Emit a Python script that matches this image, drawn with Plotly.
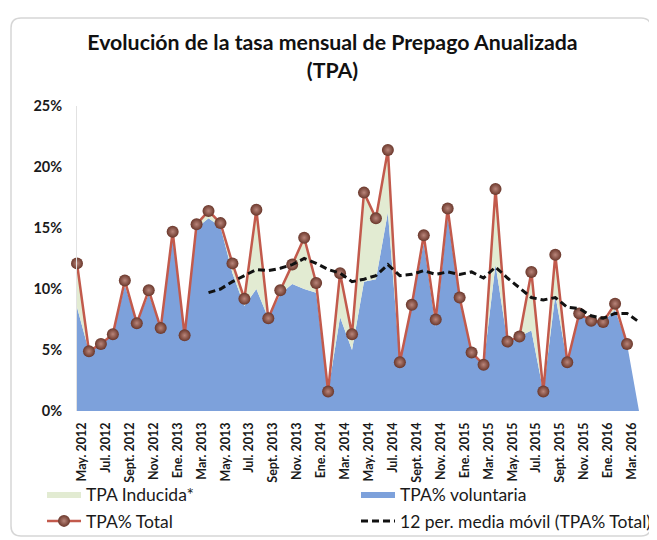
import plotly.graph_objects as go

# ---------------- data ----------------
months = [
    "May. 2012", "Jun. 2012", "Jul. 2012", "Ago. 2012", "Sept. 2012", "Oct. 2012", "Nov. 2012", "Dic. 2012",
    "Ene. 2013", "Feb. 2013", "Mar. 2013", "Abr. 2013", "May. 2013", "Jun. 2013", "Jul. 2013", "Ago. 2013",
    "Sept. 2013", "Oct. 2013", "Nov. 2013", "Dic. 2013",
    "Ene. 2014", "Feb. 2014", "Mar. 2014", "Abr. 2014", "May. 2014", "Jun. 2014", "Jul. 2014", "Ago. 2014",
    "Sept. 2014", "Oct. 2014", "Nov. 2014", "Dic. 2014",
    "Ene. 2015", "Feb. 2015", "Mar. 2015", "Abr. 2015", "May. 2015", "Jun. 2015", "Jul. 2015", "Ago. 2015",
    "Sept. 2015", "Oct. 2015", "Nov. 2015", "Dic. 2015",
    "Ene. 2016", "Feb. 2016", "Mar. 2016", "Abr. 2016",
]

tick_labels = [
    "May. 2012", "Jul. 2012", "Sept. 2012", "Nov. 2012", "Ene. 2013", "Mar. 2013", "May. 2013", "Jul. 2013",
    "Sept. 2013", "Nov. 2013", "Ene. 2014", "Mar. 2014", "May. 2014", "Jul. 2014", "Sept. 2014", "Nov. 2014",
    "Ene. 2015", "Mar. 2015", "May. 2015", "Jul. 2015", "Sept. 2015", "Nov. 2015", "Ene. 2016", "Mar. 2016",
]

tpa_total = [
    12.1, 4.9, 5.5, 6.3, 10.7, 7.2, 9.9, 6.8,
    14.7, 6.2, 15.3, 16.4, 15.4, 12.1, 9.2, 16.5, 7.6, 9.9, 12.0, 14.2,
    10.5, 1.6, 11.3, 6.3, 17.9, 15.8, 21.4, 4.0, 8.7, 14.4, 7.5, 16.6,
    9.3, 4.8, 3.8, 18.2, 5.7, 6.1, 11.4, 1.6, 12.8, 4.0, 8.0, 7.4,
    7.3, 8.8, 5.5, None,
]

tpa_voluntaria = [
    8.5, 4.9, 5.5, 6.3, 10.3, 7.2, 9.6, 6.8,
    14.2, 6.2, 15.0, 15.8, 15.1, 11.3, 8.6, 10.0, 7.6, 9.6, 10.4, 10.0,
    9.7, 1.6, 7.7, 5.0, 10.6, 10.8, 16.3, 4.0, 8.7, 13.8, 6.9, 16.0,
    9.0, 4.8, 3.8, 12.0, 5.7, 6.1, 6.6, 1.6, 9.5, 4.0, 7.8, 7.4,
    7.3, 8.3, 5.5, 0.0,
]

tpa_inducida = [
    3.6, 0.0, 0.0, 0.0, 0.4, 0.0, 0.3, 0.0,
    0.5, 0.0, 0.3, 0.6, 0.3, 0.8, 0.6, 6.5, 0.0, 0.3, 1.6, 4.2,
    0.8, 0.0, 3.6, 1.3, 7.3, 5.0, 5.1, 0.0, 0.0, 0.6, 0.6, 0.6,
    0.3, 0.0, 0.0, 6.2, 0.0, 0.0, 4.8, 0.0, 3.3, 0.0, 0.2, 0.0,
    0.0, 0.5, 0.0, 0.0,
]

media_movil_months = months[11:]
media_movil = [
    9.7, 10.0, 10.6, 11.1, 11.6, 11.5, 11.7, 12.0, 12.5,
    12.1, 11.6, 11.3, 10.6, 10.8, 11.1, 12.0, 11.1, 11.2, 11.5, 11.2, 11.4,
    11.2, 11.4, 10.9, 11.8, 10.9, 10.1, 9.3, 9.1, 9.3, 8.5, 8.4, 7.8,
    7.6, 8.0, 8.0, 7.3,
]

y_ticks = [0, 5, 10, 15, 20, 25]

# ---------------- styling ----------------
FONT = "Lato"
OFF = 8                      # default page margin of the browser body
W, H = 657 - OFF, 540 - OFF  # figure size so it fits the window exactly
# plot area in window pixels: x 77..639, y 106..411
L = 77 - OFF
R = W - (639 - OFF)
T = 106 - OFF
B = H - (411 - OFF)
PW, PH = W - L - R, H - T - B


def px_x(wx):
    """window x pixel -> paper coordinate"""
    return (wx - OFF - L) / PW


def px_y(wy):
    """window y pixel -> paper coordinate"""
    return (H - B - (wy - OFF)) / PH


fig = go.Figure()

fig.add_trace(go.Scatter(
    x=months, y=tpa_voluntaria, name="TPA% voluntaria", stackgroup="tpa",
    mode="lines", line=dict(width=0, color="#7DA1DB"), fillcolor="#7DA1DB",
    legend="legend2", hoverinfo="skip",
))
fig.add_trace(go.Scatter(
    x=months, y=tpa_inducida, name="TPA Inducida*", stackgroup="tpa",
    mode="lines", line=dict(width=0, color="#E2EBD2"), fillcolor="#E2EBD2",
    legend="legend", hoverinfo="skip",
))
fig.add_trace(go.Scatter(
    x=months, y=tpa_total, name="TPA% Total", mode="lines+markers",
    line=dict(color="#C25A4C", width=2.5),
    marker=dict(size=12, color="#6A372B",
                gradient=dict(type="radial", color="#B9857A"),
                line=dict(width=0)),
    cliponaxis=False, legend="legend3", connectgaps=False,
))
fig.add_trace(go.Scatter(
    x=media_movil_months, y=media_movil, name="12 per. media móvil (TPA% Total)",
    mode="lines", line=dict(color="#111111", width=3, dash="7px,4px"),
    legend="legend4",
))

legend_font = dict(family=FONT, size=17.5, color="#1a1a1a")
col1_x = px_x(42)
col2_x = px_x(356)
row1_y = px_y(494)
row2_y = px_y(521)
common_legend = dict(orientation="h", xanchor="left", yanchor="middle",
                     bgcolor="rgba(0,0,0,0)", font=legend_font, itemwidth=34)

# rounded border around the chart (window pixels)
x0, x1, y0, y1, r = 11, 651, 18, 536, 10
path = (
    f"M {px_x(x0 + r)} {px_y(y0)} L {px_x(x1 - r)} {px_y(y0)} "
    f"Q {px_x(x1)} {px_y(y0)} {px_x(x1)} {px_y(y0 + r)} "
    f"L {px_x(x1)} {px_y(y1 - r)} Q {px_x(x1)} {px_y(y1)} {px_x(x1 - r)} {px_y(y1)} "
    f"L {px_x(x0 + r)} {px_y(y1)} Q {px_x(x0)} {px_y(y1)} {px_x(x0)} {px_y(y1 - r)} "
    f"L {px_x(x0)} {px_y(y0 + r)} Q {px_x(x0)} {px_y(y0)} {px_x(x0 + r)} {px_y(y0)} Z"
)

fig.update_layout(
    width=W, height=H,
    margin=dict(l=L, r=R, t=T, b=B, pad=0, autoexpand=False),
    paper_bgcolor="white", plot_bgcolor="white",
    font=dict(family=FONT, color="#1a1a1a"),
    title=dict(
        text="Evolución de la tasa mensual de Prepago Anualizada<br>(TPA)",
        x=0.5, xanchor="center", y=1 - 42 / H, yanchor="top",
        font=dict(family=FONT, size=21.3, color="#111111", weight="bold"),
    ),
    showlegend=True,
    legend=dict(x=col1_x, y=row1_y, **common_legend),
    legend2=dict(x=col2_x, y=row1_y, **common_legend),
    legend3=dict(x=col1_x, y=row2_y, **common_legend),
    legend4=dict(x=col2_x, y=row2_y, **common_legend),
    shapes=[dict(type="path", xref="paper", yref="paper", path=path,
                 line=dict(color="#d6d6d6", width=1.5), layer="below")],
    xaxis=dict(
        type="category", range=[0, len(months) - 1],
        tickmode="array", tickvals=tick_labels, ticktext=tick_labels,
        tickangle=-90, showgrid=False, zeroline=False, showline=False, ticks="",
        tickfont=dict(family=FONT, size=12.5, color="#1a1a1a", weight="bold"),
        ticklabelstandoff=8, ticklabelshift=5,
    ),
    yaxis=dict(
        range=[0, 25], tickmode="array", tickvals=y_ticks,
        ticktext=[f"{v}%" for v in y_ticks],
        showgrid=False, zeroline=False, showline=True, linecolor="#e2e2e2", linewidth=1,
        ticks="", ticklabelstandoff=11,
        tickfont=dict(family=FONT, size=14.5, color="#1a1a1a", weight="bold"),
    ),
)

fig.write_html("out.html")
